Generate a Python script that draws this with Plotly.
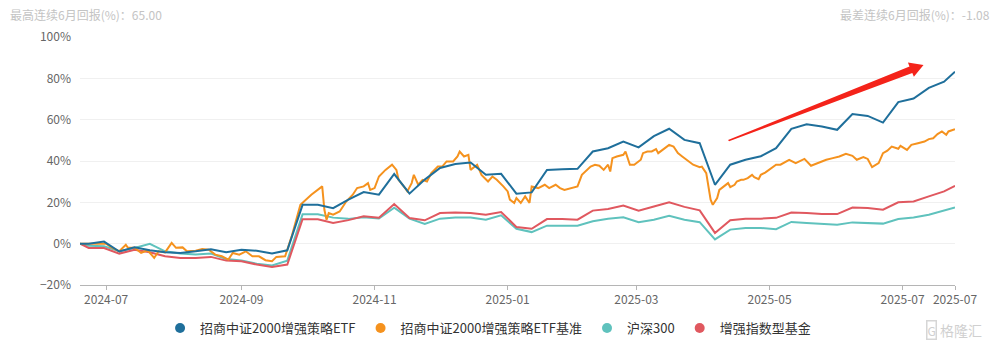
import plotly.graph_objects as go

# ---------------- data ----------------
week_dates = [
    "2024-06-19", "2024-06-23", "2024-06-30", "2024-07-07", "2024-07-14", "2024-07-21", "2024-07-28",
    "2024-08-04", "2024-08-11", "2024-08-18", "2024-08-25", "2024-09-01", "2024-09-08", "2024-09-15",
    "2024-09-22", "2024-09-29", "2024-10-06", "2024-10-13", "2024-10-20", "2024-10-27", "2024-11-03",
    "2024-11-10", "2024-11-17", "2024-11-24", "2024-12-01", "2024-12-08", "2024-12-15", "2024-12-22",
    "2024-12-29", "2025-01-05", "2025-01-12", "2025-01-19", "2025-01-26", "2025-02-02", "2025-02-09",
    "2025-02-16", "2025-02-23", "2025-03-02", "2025-03-09", "2025-03-16", "2025-03-23", "2025-03-30",
    "2025-04-06", "2025-04-13", "2025-04-20", "2025-04-27", "2025-05-04", "2025-05-11", "2025-05-18",
    "2025-05-25", "2025-06-01", "2025-06-08", "2025-06-15", "2025-06-22", "2025-06-29", "2025-07-06",
    "2025-07-13", "2025-07-20", "2025-07-25",
]

etf_values = [
    0, 0.0, 1.0, -3.8, -1.8, -3.2, -4.2, -4.5, -3.7, -2.7, -4.2, -2.9, -3.4, -4.8, -3.2,
    18.8, 18.8, 17.2, 21.3, 25.0, 23.7, 33.7, 24.2, 31.0, 36.6, 38.5, 39.3, 33.3, 33.8,
    24.2, 24.8, 35.7, 36.0, 36.2, 44.6, 46.2, 49.4, 46.6, 52.0, 55.6, 50.2, 48.6,
    28.5, 38.2, 40.6, 42.3, 46.2, 55.6, 57.8, 56.7, 55.1, 62.7, 61.8, 58.6, 68.5,
    70.2, 75.4, 78.4, 83.2,
]

hs300_values = [
    0, -1.0, -1.3, -3.7, -2.1, -0.1, -3.7, -4.8, -5.3, -4.8, -7.4, -8.2, -9.7, -10.6, -8.2,
    14.2, 14.2, 12.6, 12.0, 12.8, 12.2, 17.4, 12.1, 9.5, 12.1, 12.7, 12.7, 11.6, 13.7,
    7.2, 5.6, 8.7, 8.7, 8.7, 10.8, 12.1, 12.8, 10.4, 11.6, 13.5, 11.6, 10.4,
    2.1, 6.8, 7.6, 7.6, 7.0, 10.5, 10.0, 9.5, 9.2, 10.3, 10.0, 9.7, 11.9,
    12.7, 14.0, 15.9, 17.5,
]

enhanced_values = [
    0, -2.1, -2.1, -4.8, -2.9, -4.2, -6.1, -6.9, -6.9, -6.4, -8.2, -8.5, -10.1, -11.3, -10.1,
    11.8, 11.8, 10.0, 11.4, 13.3, 12.5, 19.2, 12.4, 11.3, 14.8, 15.1, 14.8, 14.0, 15.3,
    8.1, 7.2, 11.9, 11.9, 11.6, 16.0, 16.8, 18.4, 15.9, 18.0, 20.0, 17.8, 16.1,
    5.2, 11.3, 12.1, 12.1, 12.5, 15.1, 14.8, 14.3, 14.3, 17.5, 17.2, 16.4, 20.0,
    20.4, 22.9, 25.3, 28.0,
]

bench_dates = [
    "2024-06-19", "2024-07-01", "2024-07-03", "2024-07-07", "2024-07-10", "2024-07-11", "2024-07-14",
    "2024-07-17", "2024-07-20", "2024-07-23", "2024-07-25", "2024-07-28", "2024-07-31", "2024-08-02",
    "2024-08-05", "2024-08-07", "2024-08-11", "2024-08-14", "2024-08-17", "2024-08-20", "2024-08-23",
    "2024-08-26", "2024-08-28", "2024-08-31", "2024-09-03", "2024-09-06", "2024-09-09", "2024-09-12",
    "2024-09-15", "2024-09-17", "2024-09-21", "2024-09-24", "2024-09-28", "2024-10-03", "2024-10-08",
    "2024-10-09", "2024-10-10", "2024-10-11", "2024-10-13", "2024-10-16", "2024-10-19", "2024-10-22",
    "2024-10-24", "2024-10-27", "2024-10-29", "2024-10-30", "2024-11-01", "2024-11-03", "2024-11-06",
    "2024-11-09", "2024-11-11", "2024-11-12", "2024-11-15", "2024-11-16", "2024-11-18", "2024-11-19",
    "2024-11-21", "2024-11-23", "2024-11-25", "2024-11-27", "2024-11-30", "2024-12-02", "2024-12-04",
    "2024-12-07", "2024-12-09", "2024-12-10", "2024-12-12", "2024-12-14", "2024-12-15", "2024-12-17",
    "2024-12-18", "2024-12-20", "2024-12-23", "2024-12-25", "2024-12-27", "2024-12-30", "2025-01-01",
    "2025-01-02", "2025-01-04", "2025-01-05", "2025-01-07", "2025-01-09", "2025-01-11", "2025-01-12",
    "2025-01-15", "2025-01-18", "2025-01-20", "2025-01-23", "2025-01-25", "2025-01-27", "2025-01-30",
    "2025-02-02", "2025-02-04", "2025-02-07", "2025-02-08", "2025-02-10", "2025-02-12", "2025-02-14",
    "2025-02-16", "2025-02-17", "2025-02-18", "2025-02-20", "2025-02-23", "2025-02-24", "2025-02-26",
    "2025-02-28", "2025-03-03", "2025-03-04", "2025-03-06", "2025-03-08", "2025-03-10", "2025-03-11",
    "2025-03-14", "2025-03-16", "2025-03-18", "2025-03-20", "2025-03-22", "2025-03-24", "2025-03-26",
    "2025-03-27", "2025-03-30", "2025-03-31", "2025-04-02", "2025-04-03", "2025-04-04", "2025-04-05",
    "2025-04-07", "2025-04-08", "2025-04-10", "2025-04-12", "2025-04-13", "2025-04-15", "2025-04-16",
    "2025-04-18", "2025-04-19", "2025-04-21", "2025-04-23", "2025-04-24", "2025-04-26", "2025-04-27",
    "2025-04-29", "2025-05-02", "2025-05-04", "2025-05-06", "2025-05-10", "2025-05-13", "2025-05-17",
    "2025-05-20", "2025-05-23", "2025-05-27", "2025-05-30", "2025-06-02", "2025-06-05", "2025-06-08",
    "2025-06-10", "2025-06-13", "2025-06-15", "2025-06-17", "2025-06-20", "2025-06-22", "2025-06-24",
    "2025-06-26", "2025-06-29", "2025-06-30", "2025-07-03", "2025-07-05", "2025-07-08", "2025-07-11",
    "2025-07-13", "2025-07-15", "2025-07-17", "2025-07-19", "2025-07-21", "2025-07-22", "2025-07-25",
]

bench_values = [
    0, 0, -1.5, -3.7, -0.5, -2.0, -2.0,
    -4.5, -3.2, -6.9, -3.7, -4.2, 0.4, -2.0,
    -1.8, -3.7, -3.4, -2.6, -2.9, -5.3, -6.1,
    -7.7, -4.5, -5.3, -3.7, -6.1, -6.1, -8.0,
    -8.5, -6.4, -6.1, 3.5, 18.8, 23.7, 27.7,
    16.4, 11.6, 14.8, 14.0, 15.6, 20.4, 23.7,
    26.9, 27.7, 29.3, 26.0, 26.9, 32.5, 35.7,
    38.2, 35.7, 30.9, 26.9, 25.3, 29.3, 33.3,
    28.5, 30.9, 30.1, 34.1, 37.3, 37.3, 39.8,
    39.8, 42.2, 44.6, 42.2, 43.0, 35.7, 37.3,
    38.2, 33.3, 30.1, 32.5, 30.9, 27.7, 25.3,
    21.3, 19.7, 22.1, 19.7, 22.9, 19.7, 27.7,
    26.9, 28.5, 26.9, 28.5, 26.9, 26.0, 26.9,
    27.7, 33.3, 36.6, 37.3, 38.2, 37.7, 35.7,
    38.2, 34.9, 41.4, 42.2, 43.0, 44.6, 38.2,
    38.2, 40.6, 43.8, 44.6, 44.6, 45.8, 43.8,
    46.2, 47.8, 47.0, 43.8, 42.2, 40.6, 39.0,
    38.2, 37.0, 37.3, 34.1, 28.5, 21.3, 18.8,
    22.1, 26.0, 27.7, 29.3, 27.4, 28.5, 30.1,
    30.9, 30.9, 31.7, 33.3, 32.2, 31.2, 33.3,
    34.4, 36.6, 38.2, 38.2, 40.6, 39.0, 41.0,
    37.7, 39.0, 40.6, 41.4, 42.2, 43.5, 42.5,
    40.6, 41.9, 41.0, 37.0, 39.0, 43.8, 45.0,
    47.0, 45.9, 47.3, 45.4, 47.8, 48.6, 49.4,
    50.6, 51.0, 53.0, 54.3, 52.7, 54.3, 55.4,
]

series_names = ["招商中证2000增强策略ETF", "招商中证2000增强策略ETF基准", "沪深300", "增强指数型基金"]
series_colors = ["#1f6f9b", "#f5921e", "#5fc2bd", "#e0585f"]

tick_dates = ["2024-07-01", "2024-09-01", "2024-11-01", "2025-01-01", "2025-03-01",
              "2025-05-01", "2025-07-01", "2025-07-25"]
tick_labels = ["2024-07", "2024-09", "2024-11", "2025-01", "2025-03", "2025-05", "2025-07", "2025-07"]

best_text = "最高连续6月回报(%)：65.00"
worst_text = "最差连续6月回报(%)：-1.08"

# ---------------- figure ----------------
FONT = "Noto Sans CJK SC, Noto Sans, sans-serif"
fig = go.Figure()

plot_order = [
    (week_dates, hs300_values, 2),
    (week_dates, enhanced_values, 3),
    (bench_dates, bench_values, 1),
    (week_dates, etf_values, 0),
]
for xs, ys, idx in plot_order:
    fig.add_trace(go.Scatter(
        x=xs, y=ys, mode="lines", name=series_names[idx],
        line=dict(color=series_colors[idx], width=2),
        showlegend=False,
    ))

for name, color in zip(series_names, series_colors):
    fig.add_trace(go.Scatter(
        x=[None], y=[None], mode="markers", name=name,
        marker=dict(color=color, size=10, symbol="circle"),
        showlegend=True,
    ))

# decorative red arrow (paper coordinates)
arrow_path = ("M 0.7406 0.5847 L 0.9480 0.8810 L 0.9462 0.8975 L 0.9640 0.8875 "
              "L 0.9530 0.8400 L 0.9512 0.8550 L 0.7418 0.5800 Z")
fig.add_shape(type="path", path=arrow_path, xref="paper", yref="paper",
              fillcolor="#f4231a", line=dict(width=0), layer="above")

fig.add_annotation(text=best_text, xref="paper", yref="paper", x=-0.0823, y=1.0927,
                   xanchor="left", yanchor="middle", showarrow=False,
                   font=dict(size=12, color="#c4c4c4", family=FONT))
fig.add_annotation(text=worst_text, xref="paper", yref="paper", x=0.8663, y=1.0927,
                   xanchor="left", yanchor="middle", showarrow=False,
                   font=dict(size=12, color="#c4c4c4", family=FONT))
# watermark
fig.add_annotation(text="G", xref="paper", yref="paper", x=0.9737, y=-0.1815,
                   xanchor="center", yanchor="middle", showarrow=False,
                   bordercolor="#d6d6d6", borderwidth=1.5, borderpad=0,
                   font=dict(size=12, color="#d0d0d0", family=FONT))
fig.add_annotation(text="格隆汇", xref="paper", yref="paper", x=1.0065, y=-0.1815,
                   xanchor="center", yanchor="middle", showarrow=False,
                   font=dict(size=14, color="#d0d0d0", family=FONT))

fig.update_layout(
    width=993, height=351,
    margin=dict(l=80, r=38, t=37, b=66, autoexpand=False),
    paper_bgcolor="white", plot_bgcolor="white",
    font=dict(family=FONT, color="#555"),
    legend=dict(orientation="h", xref="container", yref="container",
                x=0.4915, y=0.0655, xanchor="center", yanchor="middle",
                font=dict(size=13, color="#333", family=FONT), itemclick=False),
    xaxis=dict(type="date", range=["2024-06-19", "2025-07-25"],
               tickvals=tick_dates, ticktext=tick_labels, automargin=False,
               showgrid=False, showline=True, linecolor="#b5b5b5", linewidth=1,
               ticks="outside", ticklen=4, tickcolor="#b5b5b5",
               tickfont=dict(size=12, color="#666"), zeroline=False),
    yaxis=dict(range=[-20, 100], dtick=20, tick0=0, ticksuffix="%", automargin=False,
               showgrid=True, gridcolor="#f0f0f0", gridwidth=1,
               zeroline=False, showline=False, ticks="",
               ticklabelstandoff=8,
               tickfont=dict(size=12, color="#666")),
    showlegend=True,
)

fig.write_html("out.html")
